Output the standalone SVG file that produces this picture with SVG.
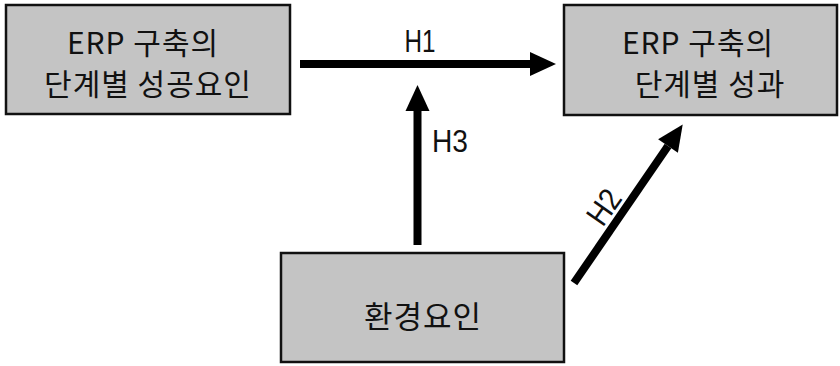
<svg xmlns="http://www.w3.org/2000/svg" width="840" height="366" viewBox="0 0 840 366">
  <style>
    .box { fill: #c4c4c4; stroke: #111; stroke-width: 2.5; }
    .kt { font-family: "Noto Sans CJK KR", "Noto Sans", sans-serif; font-size: 30px; fill: #111; text-anchor: middle; letter-spacing: 1px; }
    .lbl { font-family: "Liberation Sans", "DejaVu Sans", sans-serif; font-size: 32px; fill: #111; text-anchor: middle; }
    .conn { stroke: #000; stroke-width: 8; fill: none; marker-end: url(#ah); }
  </style>
  <defs>
    <marker id="ah" markerUnits="userSpaceOnUse" markerWidth="26" markerHeight="24" refX="0" refY="12" orient="auto" overflow="visible">
      <path d="M0,0 L26,12 L0,24 Z" fill="#000"/>
    </marker>
  </defs>
  <rect width="840" height="366" fill="#fff"/>

  <g id="node-success-factors">
    <rect class="box" x="6" y="5" width="284" height="109"/>
    <text class="kt" x="143" y="54">ERP 구축의</text>
    <text class="kt" x="148" y="95">단계별 성공요인</text>
  </g>

  <g id="node-performance">
    <rect class="box" x="564" y="5" width="273" height="110"/>
    <text class="kt" x="698" y="54">ERP 구축의</text>
    <text class="kt" x="710" y="95">단계별 성과</text>
  </g>

  <g id="node-environment">
    <rect class="box" x="281" y="253" width="283" height="109"/>
    <text class="kt" x="423" y="328" style="font-size:31px">환경요인</text>
  </g>

  <g id="connectors">
    <line class="conn" x1="300" y1="64" x2="530" y2="64"/>
    <line class="conn" x1="417.5" y1="245" x2="417.5" y2="111"/>
    <line class="conn" x1="574" y1="283" x2="668" y2="146"/>
    <text class="lbl" x="420" y="52" textLength="31" lengthAdjust="spacingAndGlyphs">H1</text>
    <text class="lbl" x="450" y="152" textLength="36" lengthAdjust="spacingAndGlyphs">H3</text>
    <text class="lbl" transform="translate(604,207) rotate(-55)" x="0" y="11" textLength="36" lengthAdjust="spacingAndGlyphs">H2</text>
  </g>
</svg>
